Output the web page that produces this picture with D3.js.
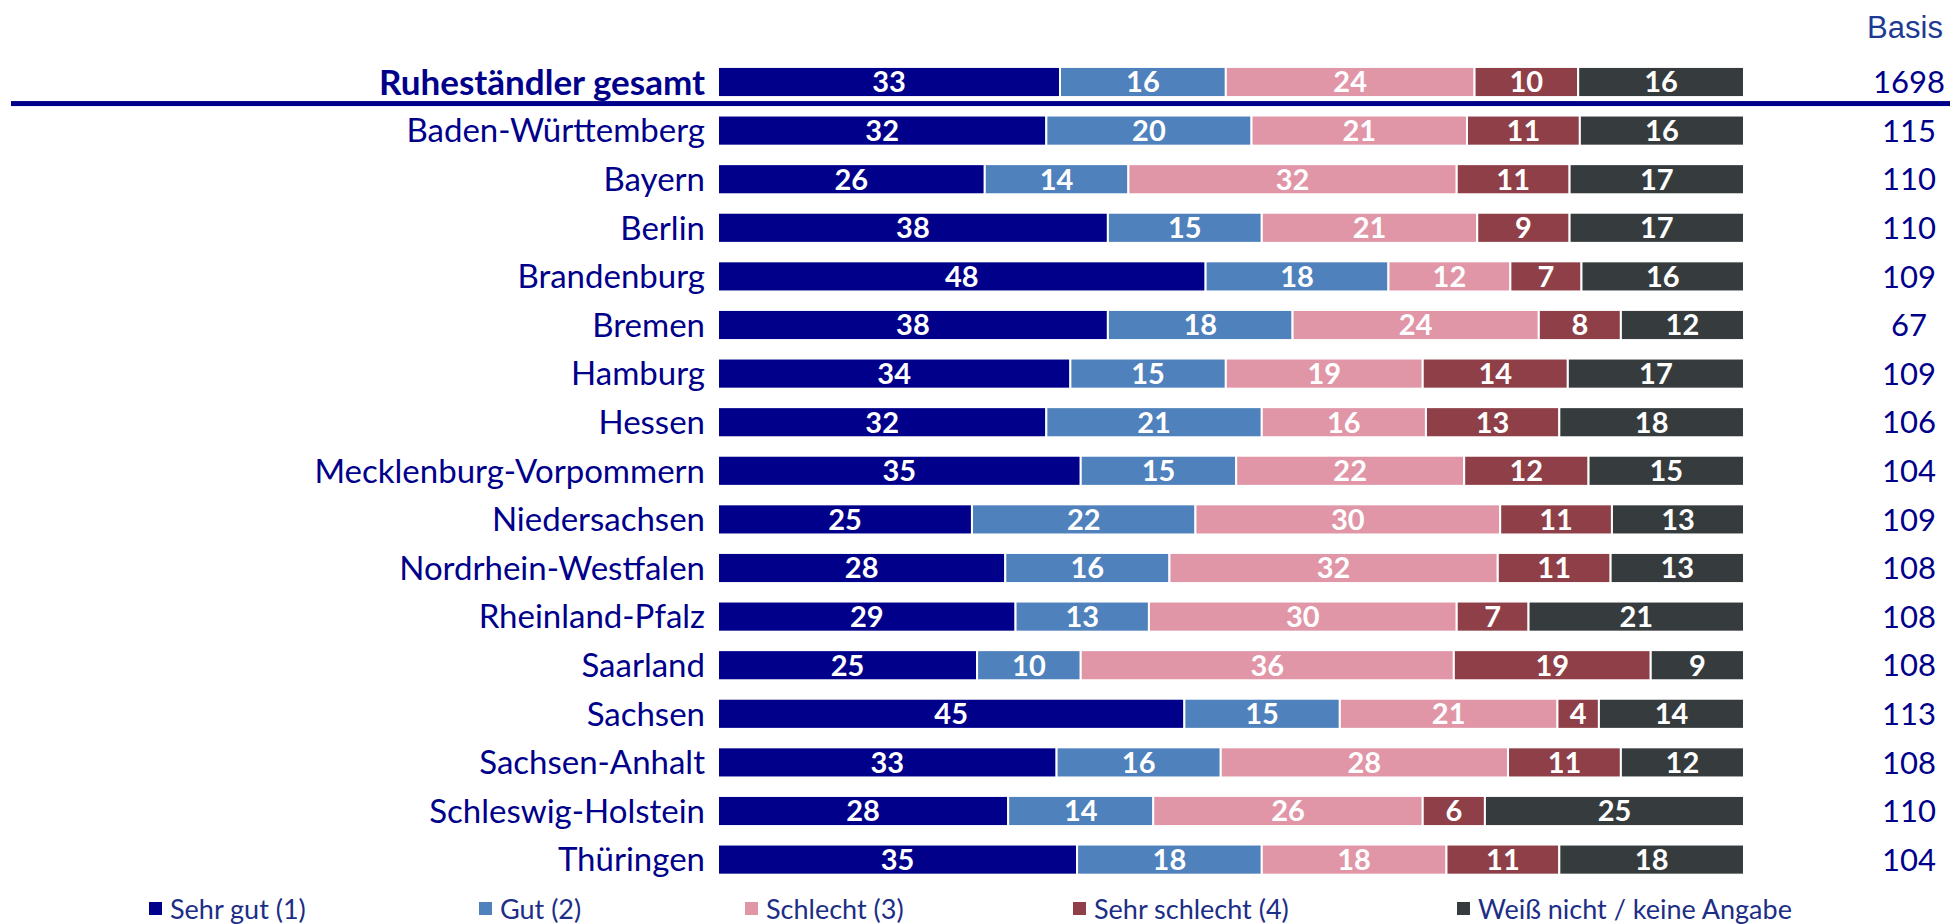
<!DOCTYPE html>
<html>
<head>
<meta charset="utf-8">
<script src="https://cdn.jsdelivr.net/npm/d3@7"></script>
<style>
  body { margin: 0; background: #fff; }
  svg { display: block; }
</style>
</head>
<body>
<div id="chart"></div>
<script>

var regions = ["Ruhest\u00e4ndler gesamt", "Baden-W\u00fcrttemberg", "Bayern", "Berlin", "Brandenburg", "Bremen",
  "Hamburg", "Hessen", "Mecklenburg-Vorpommern", "Niedersachsen", "Nordrhein-Westfalen",
  "Rheinland-Pfalz", "Saarland", "Sachsen", "Sachsen-Anhalt", "Schleswig-Holstein", "Th\u00fcringen"];

var categories = ["Sehr gut (1)", "Gut (2)", "Schlecht (3)", "Sehr schlecht (4)", "Wei\u00df nicht / keine Angabe"];

var sehrGut      = [33, 32, 26, 38, 48, 38, 34, 32, 35, 25, 28, 29, 25, 45, 33, 28, 35];
var gut          = [16, 20, 14, 15, 18, 18, 15, 21, 15, 22, 16, 13, 10, 15, 16, 14, 18];
var schlecht     = [24, 21, 32, 21, 12, 24, 19, 16, 22, 30, 32, 30, 36, 21, 28, 26, 18];
var sehrSchlecht = [10, 11, 11,  9,  7,  8, 14, 13, 12, 11, 11,  7, 19,  4, 11,  6, 11];
var weissNicht   = [16, 16, 17, 17, 16, 12, 17, 18, 15, 13, 13, 21,  9, 14, 12, 25, 18];

var basis = [1698, 115, 110, 110, 109, 67, 109, 106, 104, 109, 108, 108, 108, 113, 108, 110, 104];

var colors = ["#00008b", "#4f81bd", "#e196a8", "#8e3f47", "#363c3e"];

var W = 1950, H = 924;
var barLeft = 718, barRight = 1744;
var navy = "#00008b";
var font = "Lato, 'Open Sans', sans-serif";

var series = [sehrGut, gut, schlecht, sehrSchlecht, weissNicht];
var rows = regions.map(function (r, i) {
  var o = { region: r, basis: basis[i] };
  categories.forEach(function (c, j) { o[c] = series[j][i]; });
  return o;
});

// bars all end at the same edge, so shares are normalised per row
var stacked = d3.stack()
  .keys(categories)
  .offset(d3.stackOffsetExpand)(rows);

var svg = d3.select("#chart").append("svg")
  .attr("width", W)
  .attr("height", H);

var x = d3.scaleLinear().domain([0, 1]).range([barLeft, barRight]);

var y = d3.scaleBand()
  .domain(regions)
  .range([57.7, 57.7 + 48.6 * regions.length])
  .paddingInner(0.38)
  .paddingOuter(0.19);

var color = d3.scaleOrdinal().domain(categories).range(colors);

// segments
var layer = svg.selectAll(".layer")
  .data(stacked).enter()
  .append("g")
  .attr("class", "layer")
  .attr("fill", function (d) { return color(d.key); });

layer.selectAll("rect")
  .data(function (d) { return d; }).enter()
  .append("rect")
  .attr("x", function (d) { return x(d[0]); })
  .attr("y", function (d) { return y(d.data.region); })
  .attr("width", function (d) { return x(d[1]) - x(d[0]); })
  .attr("height", y.bandwidth())
  .attr("stroke", "#fff")
  .attr("stroke-width", 2);

// values in segments
layer.selectAll("text")
  .data(function (d) { return d.map(function (p) { p.key = d.key; return p; }); }).enter()
  .append("text")
  .attr("x", function (d) { return (x(d[0]) + x(d[1])) / 2; })
  .attr("y", function (d) { return y(d.data.region) + y.bandwidth() / 2; })
  .attr("dy", "0.36em")
  .attr("text-anchor", "middle")
  .attr("fill", "#fff")
  .style("font-family", font)
  .style("font-weight", "bold")
  .style("font-size", "29px")
  .text(function (d) { return d.data[d.key]; });

// row labels
svg.selectAll(".label")
  .data(regions).enter()
  .append("text")
  .attr("class", "label")
  .attr("x", 705)
  .attr("y", function (d) { return y(d) + y.bandwidth() / 2; })
  .attr("dy", "0.36em")
  .attr("text-anchor", "end")
  .attr("fill", navy)
  .style("font-family", font)
  .style("font-size", function (d, i) { return i === 0 ? "35px" : "33px"; })
  .style("font-weight", function (d, i) { return i === 0 ? "bold" : "normal"; })
  .text(function (d) { return d; });

// basis column
svg.append("text")
  .attr("x", 1905)
  .attr("y", 38)
  .attr("text-anchor", "middle")
  .attr("fill", "#1f3a93")
  .style("font-family", "'Liberation Sans', Arial, sans-serif")
  .style("font-size", "31px")
  .text("Basis");

svg.selectAll(".basis")
  .data(rows).enter()
  .append("text")
  .attr("class", "basis")
  .attr("x", 1909)
  .attr("y", function (d) { return y(d.region) + y.bandwidth() / 2; })
  .attr("dy", "0.36em")
  .attr("text-anchor", "middle")
  .attr("fill", navy)
  .style("font-family", font)
  .style("font-size", "31px")
  .text(function (d) { return d.basis; });

// divider under total
svg.append("rect")
  .attr("x", 11)
  .attr("y", y(regions[0]) + y.bandwidth() + 4)
  .attr("width", W - 11)
  .attr("height", 5)
  .attr("fill", navy);

// legend
var legendX = [149, 479, 745, 1073, 1457];
var legend = svg.selectAll(".legend")
  .data(categories).enter()
  .append("g")
  .attr("class", "legend")
  .attr("transform", function (d, i) { return "translate(" + legendX[i] + ",909)"; });

legend.append("rect")
  .attr("x", 0)
  .attr("y", -7)
  .attr("width", 13)
  .attr("height", 13)
  .attr("fill", function (d) { return color(d); });

legend.append("text")
  .attr("x", 21)
  .attr("y", 0)
  .attr("dy", "0.36em")
  .attr("fill", "#1c2e86")
  .style("font-family", font)
  .style("font-size", "27px")
  .text(function (d) { return d; });

</script>
</body>
</html>
